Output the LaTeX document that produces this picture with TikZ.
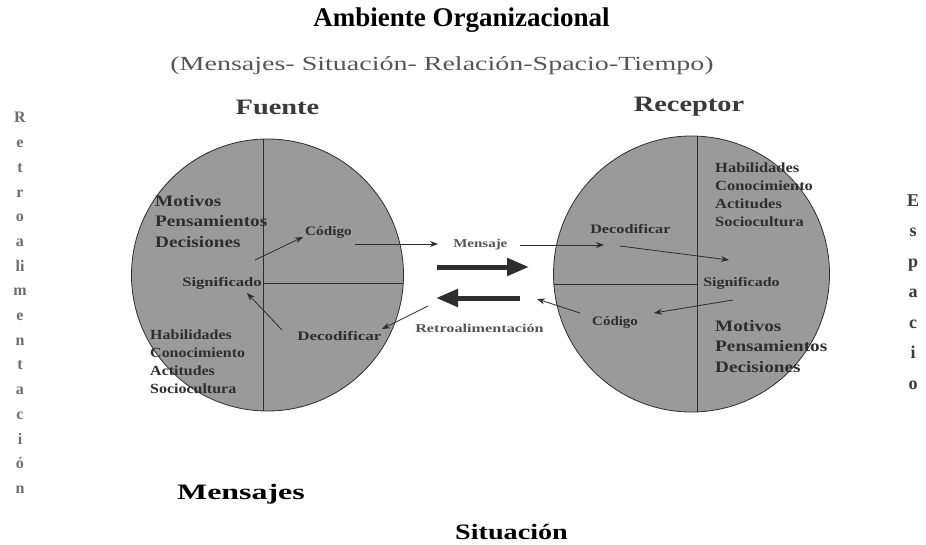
\documentclass[tikz,border=0pt]{standalone}
\usepackage{fontspec}
\setmainfont{Liberation Serif}
\usetikzlibrary{arrows.meta}
\definecolor{disc}{HTML}{9A9A9A}
\definecolor{ink}{HTML}{2E2E2E}
\definecolor{sub}{HTML}{555555}
\definecolor{head}{HTML}{3A3A3A}
\begin{document}
\begin{tikzpicture}[x=1pt,y=-1pt,
 lbl/.style={font=\bfseries\fontsize{13}{15}\selectfont, text=ink, inner sep=0pt, anchor=west},
 big/.style={font=\bfseries\fontsize{16}{20.5}\selectfont, text=ink, inner sep=0pt, align=left, anchor=north west, xscale=1.2},
 list/.style={font=\bfseries\fontsize{14}{17.8}\selectfont, text=ink, inner sep=0pt, align=left, anchor=north west, xscale=1.14},
 hd/.style={font=\bfseries\fontsize{22}{26}\selectfont, text=head, inner sep=0pt},
 thin/.style={-{Stealth[length=8pt,width=6pt]}, line width=0.8pt, draw=ink},
 fat/.style={-{Triangle[length=22pt,width=17pt]}, line width=5pt, draw=ink},
 sep/.style={line width=0.9pt, draw=ink},
]
\useasboundingbox (0,0) rectangle (926,544);
\fill[white] (0,0) rectangle (926,544);

% titles
\node[font=\bfseries\fontsize{27}{30}\selectfont, inner sep=0pt] (title) at (461.5,20) {Ambiente Organizacional};
\node[font=\fontsize{20}{24}\selectfont, text=sub, inner sep=0pt, xscale=1.40] (subt) at (442,66) {(Mensajes- Situación- Relación-Spacio-Tiempo)};
\node[hd, xscale=1.29] (fuente) at (277.5,107) {Fuente};
\node[hd, xscale=1.29] (receptor) at (689,107) {Receptor};
\node[hd, text=black, xscale=1.45] (mensajes) at (241,494) {Mensajes};
\node[hd, text=black, xscale=1.28] (situacion) at (511.5,532) {Situación};

% side texts
\node[font=\bfseries\fontsize{16}{24.7}\selectfont, text=sub!85, align=center, inner sep=0pt] (retro) at (20,303)
 {R\\e\\t\\r\\o\\a\\li\\m\\e\\n\\t\\a\\c\\i\\ó\\n};
\node[font=\bfseries\fontsize{18}{30.5}\selectfont, text=head, align=center, inner sep=0pt] (espacio) at (913,292)
 {E\\s\\p\\a\\c\\i\\o};

% left circle
\fill[disc] (267.5,275) circle (136);
\begin{scope}
 \clip (267.5,275) circle (136);
 \draw[sep] (263.5,130) -- (263.5,420);
 \draw[sep] (263.5,283) -- (410,283);
\end{scope}
\draw[ink, line width=0.8pt] (267.5,275) circle (136);

% right circle
\fill[disc] (691.5,274) circle (138);
\begin{scope}
 \clip (691.5,274) circle (138);
 \draw[sep] (697,130) -- (697,420);
 \draw[sep] (540,284) -- (697,284);
\end{scope}
\draw[ink, line width=0.8pt] (691.5,274) circle (138);

% left texts
\node[big] (lmot) at (155,195) {Motivos\\Pensamientos\\Decisiones};
\node[lbl, xscale=1.17] (lcod) at (305,232) {Código};
\node[lbl, xscale=1.28] (lsig) at (182,283) {Significado};
\node[lbl, xscale=1.31] (ldec) at (297,336) {Decodificar};
\node[list] (lhab) at (150,330) {Habilidades\\Conocimiento\\Actitudes\\Sociocultura};

% right texts
\node[lbl, xscale=1.25] (rdec) at (590,229) {Decodificar};
\node[lbl, xscale=1.23] (rsig) at (703,283) {Significado};
\node[lbl, xscale=1.15] (rcod) at (592,322) {Código};
\node[list, xscale=1.03] (rhab) at (715,163) {Habilidades\\Conocimiento\\Actitudes\\Sociocultura};
\node[big] (rmot) at (715,320) {Motivos\\Pensamientos\\Decisiones};

% middle labels
\node[lbl, font=\bfseries\fontsize{12}{14}\selectfont, text=sub, xscale=1.25] (msj) at (453,245) {Mensaje};
\node[lbl, font=\bfseries\fontsize{12}{14}\selectfont, text=sub, xscale=1.35] (ret) at (415,328) {Retroalimentación};

% connector endpoints
\coordinate (a1s) at (255,260);
\coordinate (a1e) at (303,237);
\coordinate (a2s) at (282,330);
\coordinate (a2e) at (247,293);
\coordinate (m1s) at (355,244);
\coordinate (m1e) at (438,244);
\coordinate (m2s) at (520,245);
\coordinate (m2e) at (604,245);
\coordinate (r1s) at (620,246);
\coordinate (r1e) at (729,260);
\coordinate (r2s) at (733,300);
\coordinate (r2e) at (654,313);
\coordinate (f1s) at (580,313);
\coordinate (f1e) at (537,299);
\coordinate (f2s) at (428,306);
\coordinate (f2e) at (382,329);
\coordinate (b1s) at (437,267);
\coordinate (b1e) at (529,267);
\coordinate (b2s) at (520,298);
\coordinate (b2e) at (436,298);

\draw[thin] (a1s) -- (a1e);
\draw[thin] (a2s) -- (a2e);
\draw[thin] (m1s) -- (m1e);
\draw[thin] (m2s) -- (m2e);
\draw[thin] (r1s) -- (r1e);
\draw[thin] (r2s) -- (r2e);
\draw[thin] (f1s) -- (f1e);
\draw[thin] (f2s) -- (f2e);
\draw[fat] (b1s) -- (b1e);
\draw[fat] (b2s) -- (b2e);
\end{tikzpicture}
\end{document}
